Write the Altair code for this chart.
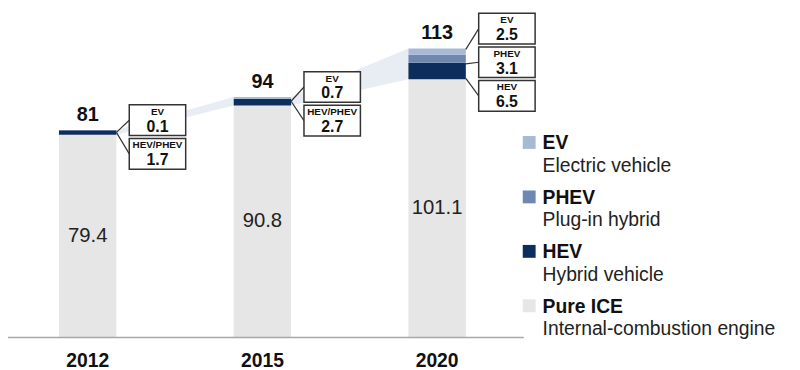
import altair as alt
import pandas as pd

# ---------------- data ----------------
years = ["2012", "2015", "2020"]
totals = ["81", "94", "113"]
ice = [79.4, 90.8, 101.1]
ice_txt = ["79.4", "90.8", "101.1"]
hev_phev = [1.7, 2.7, 0.0]
hev = [0.0, 0.0, 6.5]
phev = [0.0, 0.0, 3.1]
ev = [0.1, 0.7, 2.5]

callout_year = ["2012", "2012", "2015", "2015", "2020", "2020", "2020"]
callout_label = ["EV", "HEV/PHEV", "EV", "HEV/PHEV", "EV", "PHEV", "HEV"]
callout_value = ["0.1", "1.7", "0.7", "2.7", "2.5", "3.1", "6.5"]

legend_keys = ["EV", "PHEV", "HEV", "Pure ICE"]
legend_desc = ["Electric vehicle", "Plug-in hybrid", "Hybrid vehicle",
               "Internal-combustion engine"]

# ---------------- layout ----------------
W, H = 792, 362
X0, STEP = 80.5, 176.5      # px of first bar centre, px between bars
BASE, K = 331.0, 2.58       # px of zero line, px per unit
BAR_HALF = 29 / STEP
xdom = [-X0 / STEP, (W - X0) / STEP]
ydom = [-(H - BASE) / K, BASE / K]


def px2x(px):
    return (px - X0) / STEP


def py2y(py):
    return (BASE - py) / K


def y2py(v):
    return BASE - K * v


xs = alt.Scale(domain=xdom, nice=False, zero=False)
ys = alt.Scale(domain=ydom, nice=False, zero=False)
seg_dom = ["EV", "PHEV", "HEV", "HEV/PHEV", "Pure ICE"]
seg_rng = ["#a7b9d4", "#6e88b1", "#0d2d5c", "#0d2d5c", "#e6e6e6"]
cscale = alt.Scale(domain=seg_dom, range=seg_rng)
FONT = "Liberation Sans"

# stacked segments
rows = []
tops = []
for i, y in enumerate(years):
    base = 0.0
    for name, val in [("Pure ICE", ice[i]), ("HEV/PHEV", hev_phev[i]),
                      ("HEV", hev[i]), ("PHEV", phev[i]), ("EV", ev[i])]:
        if val <= 0:
            continue
        rows.append(dict(year=y, seg=name, x0=i - BAR_HALF, x1=i + BAR_HALF,
                         y0=base, y1=base + val))
        base += val
    tops.append(base)
seg_df = pd.DataFrame(rows)

# connector bands
band_rows = []
for i in range(len(years) - 1):
    band_rows.append(dict(band=i, x=i + BAR_HALF, yt=tops[i], yb=ice[i]))
    band_rows.append(dict(band=i, x=i + 1 - BAR_HALF, yt=tops[i + 1], yb=ice[i + 1]))
band_df = pd.DataFrame(band_rows)

info_df = pd.DataFrame(dict(
    x=list(range(len(years))), year=years, total=totals, top=tops,
    ice_mid=[v / 2 for v in ice], ice_txt=ice_txt,
    ylab=[py2y(355)] * len(years)))

# callouts
box_rows, line_rows = [], []
for i, y in enumerate(years):
    idx = [j for j, cy in enumerate(callout_year) if cy == y]
    n = len(idx)
    top_px = y2py(tops[i])
    ice_px = y2py(ice[i])
    for k, j in enumerate(idx):
        c = top_px - 10 * (n - 1) + 34 * k
        bx0 = i + (29 + 13) / STEP
        bx1 = i + (29 + 13 + 57) / STEP
        if n <= 2:
            a = (top_px + ice_px) / 2
        else:
            a = top_px + 1 + (ice_px - top_px - 2) * k / (n - 1)
        box_rows.append(dict(bx0=bx0, bx1=bx1, by0=py2y(c - 15.5), by1=py2y(c + 15.5),
                             bxc=(bx0 + bx1) / 2, ylab=py2y(c - 8.5), yval=py2y(c + 6.5),
                             label=callout_label[j], value=callout_value[j]))
        line_rows.append(dict(lx0=i + BAR_HALF, ly0=py2y(a), lx1=bx0, ly1=py2y(c)))
box_df = pd.DataFrame(box_rows)
line_df = pd.DataFrame(line_rows)

# legend
leg_rows = []
for j, (kname, desc) in enumerate(zip(legend_keys, legend_desc)):
    cy = 135 + 55 * j
    leg_rows.append(dict(seg=kname, desc=desc,
                         sx0=px2x(520), sx1=px2x(533),
                         sy0=py2y(cy - 7.5), sy1=py2y(cy + 5.5),
                         tx=px2x(540), ty=py2y(cy), dy=py2y(cy + 22.5)))
leg_df = pd.DataFrame(leg_rows)

# ---------------- marks ----------------
bands = alt.Chart(band_df).mark_area(color="#e8edf4").encode(
    x=alt.X("x:Q", scale=xs, axis=None),
    y=alt.Y("yt:Q", scale=ys, axis=None),
    y2="yb:Q",
    detail="band:N")

bars = alt.Chart(seg_df).mark_rect().encode(
    x=alt.X("x0:Q", scale=xs, axis=None), x2="x1:Q",
    y=alt.Y("y0:Q", scale=ys, axis=None), y2="y1:Q",
    color=alt.Color("seg:N", scale=cscale, legend=None))

baseline = alt.Chart(pd.DataFrame(dict(a=[xdom[0]], b=[px2x(521)], y=[0.0]))).mark_rule(
    color="#a8a8a8", strokeWidth=1.5).encode(
    x=alt.X("a:Q", scale=xs, axis=None), x2="b:Q",
    y=alt.Y("y:Q", scale=ys, axis=None))

year_txt = alt.Chart(info_df).mark_text(font=FONT, fontSize=19.5, fontWeight="bold",
                                        color="#111", baseline="middle").encode(
    x=alt.X("x:Q", scale=xs, axis=None), y=alt.Y("ylab:Q", scale=ys, axis=None),
    text="year:N")

total_txt = alt.Chart(info_df).mark_text(font=FONT, fontSize=20, fontWeight="bold",
                                         color="#111", baseline="alphabetic", dy=-9).encode(
    x=alt.X("x:Q", scale=xs, axis=None), y=alt.Y("top:Q", scale=ys, axis=None),
    text="total:N")

ice_lbl = alt.Chart(info_df).mark_text(font=FONT, fontSize=20.5, color="#222",
                                       baseline="middle").encode(
    x=alt.X("x:Q", scale=xs, axis=None), y=alt.Y("ice_mid:Q", scale=ys, axis=None),
    text="ice_txt:N")

lines = alt.Chart(line_df).mark_rule(color="#333", strokeWidth=1.2).encode(
    x=alt.X("lx0:Q", scale=xs, axis=None), x2="lx1:Q",
    y=alt.Y("ly0:Q", scale=ys, axis=None), y2="ly1:Q")

boxes = alt.Chart(box_df).mark_rect(fill="white", stroke="#333", strokeWidth=1.5).encode(
    x=alt.X("bx0:Q", scale=xs, axis=None), x2="bx1:Q",
    y=alt.Y("by0:Q", scale=ys, axis=None), y2="by1:Q")

box_lab = alt.Chart(box_df).mark_text(font=FONT, fontSize=10, fontWeight="bold",
                                      color="#111", baseline="middle").encode(
    x=alt.X("bxc:Q", scale=xs, axis=None), y=alt.Y("ylab:Q", scale=ys, axis=None),
    text="label:N")

box_val = alt.Chart(box_df).mark_text(font=FONT, fontSize=16, fontWeight="bold",
                                      color="#111", baseline="middle").encode(
    x=alt.X("bxc:Q", scale=xs, axis=None), y=alt.Y("yval:Q", scale=ys, axis=None),
    text="value:N")

leg_sw = alt.Chart(leg_df).mark_rect().encode(
    x=alt.X("sx0:Q", scale=xs, axis=None), x2="sx1:Q",
    y=alt.Y("sy0:Q", scale=ys, axis=None), y2="sy1:Q",
    color=alt.Color("seg:N", scale=cscale, legend=None))

leg_name = alt.Chart(leg_df).mark_text(font=FONT, fontSize=19.5, fontWeight="bold",
                                       color="#111", align="left", baseline="middle").encode(
    x=alt.X("tx:Q", scale=xs, axis=None), y=alt.Y("ty:Q", scale=ys, axis=None),
    text="seg:N")

leg_desc = alt.Chart(leg_df).mark_text(font=FONT, fontSize=19.5, color="#222",
                                       align="left", baseline="middle").encode(
    x=alt.X("tx:Q", scale=xs, axis=None), y=alt.Y("dy:Q", scale=ys, axis=None),
    text="desc:N")

chart = alt.layer(bands, bars, baseline, year_txt, total_txt, ice_lbl, lines, boxes,
                  box_lab, box_val, leg_sw, leg_name, leg_desc).properties(
    width=W, height=H, padding=0,
    autosize=alt.AutoSizeParams(type="none")).configure_view(strokeWidth=0)

chart.save("out.html", embed_options={"renderer": "svg", "actions": False})
